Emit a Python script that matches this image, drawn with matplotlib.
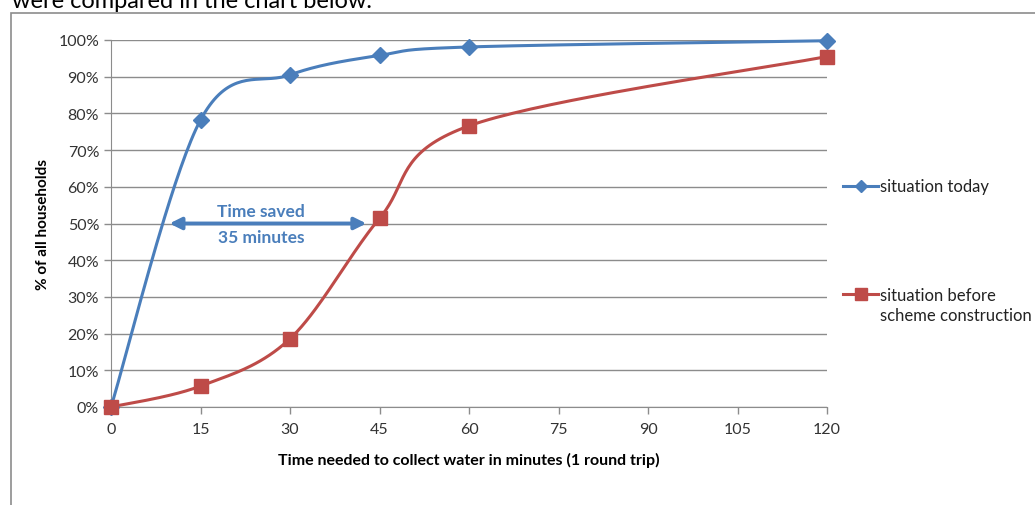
import numpy as np
import matplotlib
matplotlib.use("Agg")
import matplotlib.pyplot as plt
from matplotlib.ticker import FuncFormatter

plt.rcParams['font.family'] = ['Lato', 'DejaVu Sans']

minutes = [0, 15, 30, 45, 60, 120]
today = [0.0, 78.2, 90.5, 95.8, 98.1, 99.8]
before = [0.0, 5.7, 18.6, 51.4, 76.6, 95.5]
x_ticks = [0, 15, 30, 45, 60, 75, 90, 105, 120]
y_ticks = [0, 10, 20, 30, 40, 50, 60, 70, 80, 90, 100]

blue = '#4A7EBB'
red = '#BE4B48'
grid_col = '#8C8C8C'


def smooth(xs, ys, n=40):
    # Bezier smoothing through every point, same idea as spreadsheet "smoothed line"
    p = np.column_stack([xs, ys]).astype(float)
    out = []
    for i in range(len(p) - 1):
        p0 = p[i - 1] if i > 0 else p[i]
        p3 = p[i + 2] if i + 2 < len(p) else p[i + 1]
        c1 = p[i] + (p[i + 1] - p0) / 6.0
        c2 = p[i + 1] - (p3 - p[i]) / 6.0
        t = np.linspace(0, 1, n)[:, None]
        seg = ((1 - t) ** 3 * p[i] + 3 * (1 - t) ** 2 * t * c1
               + 3 * (1 - t) * t ** 2 * c2 + t ** 3 * p[i + 1])
        out.append(seg if i == 0 else seg[1:])
    out = np.vstack(out)
    return out[:, 0], out[:, 1]


fig = plt.figure(figsize=(10.35, 5.06), dpi=100)

# chart area frame and the sentence above it
fig.patches.append(plt.Rectangle((11 / 1035, -0.1), 1.2, 1 - 14 / 506 + 0.1,
                                 transform=fig.transFigure, fill=False,
                                 edgecolor='#8C8C8C', linewidth=1.2))
fig.text(12 / 1035, 1.0 - 8 / 506, 'were compared in the chart below.', fontsize=17,
         va='baseline', ha='left', color='black')

ax = fig.add_axes([111 / 1035, 1 - 408 / 506, (827 - 111) / 1035, (408 - 41) / 506])

sx, sy = smooth(minutes, today)
ax.plot(sx, sy, color=blue, lw=2.2, zorder=3, clip_on=False)
ax.plot(minutes, today, ls='none', marker='D', ms=8, color=blue, zorder=4, clip_on=False)
sx, sy = smooth(minutes, before)
ax.plot(sx, sy, color=red, lw=2.2, zorder=3, clip_on=False)
ax.plot(minutes, before, ls='none', marker='s', ms=10, color=red, zorder=4, clip_on=False)

ax.set_xlim(0, 120)
ax.set_ylim(0, 100)
ax.set_xticks(x_ticks)
ax.set_yticks(y_ticks)
ax.yaxis.set_major_formatter(FuncFormatter(lambda v, _: f'{v:.0f}%'))
ax.grid(axis='y', color=grid_col, lw=1)
ax.set_axisbelow(True)
for s in ['top', 'right']:
    ax.spines[s].set_visible(False)
for s in ['left', 'bottom']:
    ax.spines[s].set_color(grid_col)
ax.tick_params(axis='both', colors=grid_col, labelcolor='#333333', labelsize=11.5,
               length=5, width=1)
ax.tick_params(axis='x', pad=6)
ax.set_xlabel('Time needed to collect water in minutes (1 round trip)',
              fontsize=11.5, fontweight='bold', labelpad=11)
ax.set_ylabel('% of all households', fontsize=11, fontweight='bold', labelpad=6)

# time saved arrow
ax.annotate('', xy=(9.8, 50), xytext=(42.8, 50),
            arrowprops=dict(arrowstyle='<|-|>,head_length=0.7,head_width=0.35',
                            color=blue, lw=2.8, shrinkA=0, shrinkB=0))
ax.text(25.2, 53.3, 'Time saved', color=blue, fontsize=12.5, fontweight='bold',
        ha='center', va='center')
ax.text(25.2, 46.3, '35 minutes', color=blue, fontsize=12.5, fontweight='bold',
        ha='center', va='center')

# legend entries at the right
lx0, lx1 = 843 / 1035, 878 / 1035
legend_rows = [(187, 187, blue, 'D', 6, 'situation today'),
               (295, 306, red, 's', 9, 'situation before\nscheme construction')]
for y_px, text_px, col, mk, ms, label in legend_rows:
    yf = 1 - y_px / 506
    fig.lines.append(plt.Line2D([lx0, lx1], [yf, yf], color=col, lw=2.2,
                                transform=fig.transFigure))
    fig.lines.append(plt.Line2D([(lx0 + lx1) / 2], [yf], color=col, marker=mk, ms=ms,
                                transform=fig.transFigure))
    fig.text(lx1 + 2 / 1035, 1 - text_px / 506, label, fontsize=12, color='#222222',
             ha='left', va='center', linespacing=1.3)

fig.savefig('out.png', dpi=100)
